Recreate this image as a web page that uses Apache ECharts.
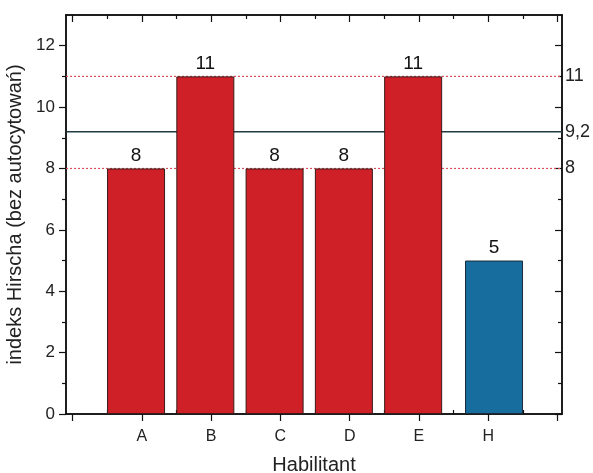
<!DOCTYPE html>
<html>
<head>
<meta charset="utf-8">
<script src="https://cdn.jsdelivr.net/npm/echarts@6/dist/echarts.min.js"></script>
<style>html,body{margin:0;padding:0;background:#fff}#c{width:593px;height:473px}</style>
</head>
<body>
<div id="c"></div>
<script>
// ---- data ----
var categories = ['A', 'B', 'C', 'D', 'E', 'H'];
var redValues = [8, 11, 8, 8, 11];       // A..E
var blueValues = [5];                    // H
var refLines = [11, 8];                  // dotted red reference lines
var meanValue = 9.2;                     // solid reference line
var yTickLabels = [0, 2, 4, 6, 8, 10, 12];
var rightLabels = [8, 9.2, 11];
var xTitle = 'Habilitant';
var yTitle = 'indeks Hirscha (bez autocytowań)';

// ---- axis extents ----
var XMIN = -0.095, XMAX = 7.065, YMIN = 0, YMAX = 13;
var intPos = [], halfPos = [];
for (var i = 0; i <= 7; i++) { intPos.push(i); if (i < 7) halfPos.push(i + 0.5); }
var evenY = [0, 2, 4, 6, 8, 10, 12], oddY = [1, 3, 5, 7, 9, 11];

var redData = redValues.map(function (v, i) { return [i + 1, v]; });
var blueData = blueValues.map(function (v, i) { return [redValues.length + i + 1, v]; });

var FONT = 'Liberation Sans, Arial, sans-serif';
var axisLine = { show: true, onZero: false, lineStyle: { color: '#111', width: 1.5 } };

function xAx(pos, ticks, inside, len, showLabel) {
  return {
    type: 'value', position: pos, min: XMIN, max: XMAX, gridIndex: 0,
    axisLine: axisLine, splitLine: { show: false },
    axisTick: { show: true, customValues: ticks, inside: inside, length: len, lineStyle: { color: '#111', width: 1.2 } },
    axisLabel: showLabel ? {
      customValues: [1, 2, 3, 4, 5, 6],
      formatter: function (v) { return categories[Math.round(v) - 1]; },
      fontFamily: FONT, fontSize: 16, color: '#222', margin: 15
    } : { show: false }
  };
}
function yAx(pos, ticks, inside, len, labelOpt) {
  return {
    type: 'value', position: pos, min: YMIN, max: YMAX, gridIndex: 0,
    axisLine: axisLine, splitLine: { show: false },
    axisTick: { show: true, customValues: ticks, inside: inside, length: len, lineStyle: { color: '#111', width: 1.2 } },
    axisLabel: labelOpt || { show: false }
  };
}

var xAxes = [
  xAx('bottom', intPos, false, 7, true),
  xAx('bottom', halfPos, true, 4, false),
  xAx('top', intPos, true, 7, false),
  xAx('top', halfPos, true, 4, false)
];
xAxes[0].name = xTitle;
xAxes[0].nameLocation = 'middle';
xAxes[0].nameGap = 41;
xAxes[0].nameTextStyle = { fontFamily: FONT, fontSize: 20, color: '#222' };

var yAxes = [
  yAx('left', evenY, false, 7, { customValues: yTickLabels, fontFamily: FONT, fontSize: 17, color: '#222', margin: 11 }),
  yAx('left', oddY, false, 4, null),
  yAx('right', evenY, true, 7, {
    customValues: rightLabels,
    formatter: function (v) { return String(v).replace('.', ','); },
    fontFamily: FONT, fontSize: 18, color: '#222', margin: 3
  }),
  yAx('right', oddY, true, 4, null)
];
yAxes[0].name = yTitle;
yAxes[0].nameLocation = 'middle';
yAxes[0].nameGap = 37;
yAxes[0].nameTextStyle = { fontFamily: FONT, fontSize: 20, color: '#222' };

var series = [];
refLines.forEach(function (v) {
  series.push({
    type: 'line', xAxisIndex: 0, yAxisIndex: 0, z: 1, silent: true, symbol: 'none',
    data: [[XMIN, v], [XMAX, v]],
    lineStyle: { color: '#d8505c', width: 1.2, type: [2, 2] }
  });
});
series.push({
  type: 'line', xAxisIndex: 0, yAxisIndex: 0, z: 1, silent: true, symbol: 'none',
  data: [[XMIN, meanValue], [XMAX, meanValue]],
  lineStyle: { color: '#1f3a40', width: 1.5 }
});
var barLabel = { show: true, position: 'top', distance: 3, fontFamily: FONT, fontSize: 19, color: '#111' };
series.push({
  type: 'bar', xAxisIndex: 0, yAxisIndex: 0, z: 3, data: redData, barWidth: 58, barGap: '-80%',
  itemStyle: { color: '#cf2028', borderColor: '#3a1a1a', borderWidth: 1 },
  label: barLabel
});
series.push({
  type: 'bar', xAxisIndex: 0, yAxisIndex: 0, z: 3, data: blueData, barWidth: 58, barGap: '-80%',
  itemStyle: { color: '#176e9e', borderColor: '#1a2a3a', borderWidth: 1 },
  label: barLabel
});

var chart = echarts.init(document.getElementById('c'), null, { renderer: 'canvas' });
chart.setOption({
  animation: false,
  backgroundColor: '#fff',
  grid: { left: 66, right: 31, top: 15, bottom: 59, containLabel: false, outerBoundsMode: 'none' },
  xAxis: xAxes,
  yAxis: yAxes,
  series: series
});
</script>
</body>
</html>
